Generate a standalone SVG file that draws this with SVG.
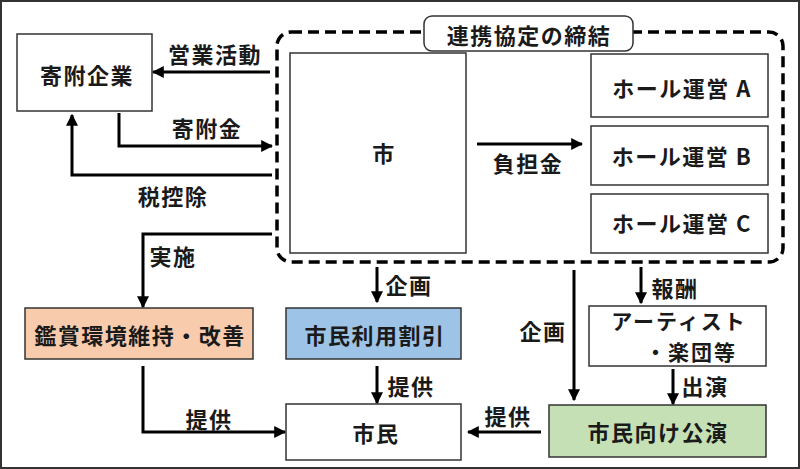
<svg xmlns="http://www.w3.org/2000/svg" width="800" height="469" viewBox="0 0 800 469">
<style>
text{font-family:"Noto Sans CJK JP","Noto Sans",sans-serif;font-weight:bold;font-size:22px;letter-spacing:1.5px;fill:#1a1a1a;text-anchor:middle;dominant-baseline:central}
.sm{font-size:21px;letter-spacing:2px}
.box{fill:#fff;stroke:#333;stroke-width:1.5}
.ln{fill:none;stroke:#000;stroke-width:3;marker-end:url(#ah)}
</style>
<defs>
<marker id="ah" viewBox="0 0 10 10" refX="9" refY="5" markerWidth="12" markerHeight="12" markerUnits="userSpaceOnUse" orient="auto">
<path d="M0,0 L10,5 L0,10 z" fill="#000"/>
</marker>
</defs>
<rect x="1" y="1" width="798" height="467" fill="#fff" stroke="#333" stroke-width="2"/>
<g id="agreement">
<rect x="277" y="32" width="506" height="230" rx="14" fill="none" stroke="#000" stroke-width="3.5" stroke-dasharray="11,6"/>
<rect x="424" y="16" width="209" height="35" rx="8" fill="#fff" stroke="#333" stroke-width="1.5"/>
<text x="529" y="34">連携協定の締結</text>
</g>
<g id="kifu-kigyo"><rect class="box" x="17" y="34" width="135" height="77"/><text x="87" y="74">寄附企業</text></g>
<g id="shi"><rect class="box" x="290" y="53" width="176" height="200"/><text x="384" y="152">市</text></g>
<g id="hall-a"><rect class="box" x="591" y="54" width="177" height="63"/><text x="682" y="87">ホール運営 A</text></g>
<g id="hall-b"><rect class="box" x="591" y="126" width="177" height="59"/><text x="682" y="155">ホール運営 B</text></g>
<g id="hall-c"><rect class="box" x="591" y="194" width="177" height="59"/><text x="682" y="222">ホール運営 C</text></g>
<g id="kansho"><rect x="25" y="308" width="228" height="51" fill="#F8CBAD" stroke="#333" stroke-width="1.5"/><text x="140" y="334">鑑賞環境維持・改善</text></g>
<g id="riyou"><rect x="286" y="308" width="175" height="51" fill="#9DC3E6" stroke="#333" stroke-width="1.5"/><text x="375" y="334">市民利用割引</text></g>
<g id="shimin"><rect class="box" x="286" y="404" width="175" height="56"/><text x="376" y="432">市民</text></g>
<g id="artist"><rect class="box" x="589" y="306" width="177" height="60"/><text class="sm" x="679" y="320">アーティスト</text><text class="sm" x="691" y="351">・楽団等</text></g>
<g id="koen"><rect x="549" y="405" width="217" height="52" fill="#C5E0B4" stroke="#333" stroke-width="1.5"/><text x="658" y="431">市民向け公演</text></g>
<g id="connectors">
<path class="ln" d="M270,72 H153"/>
<text x="215" y="53">営業活動</text>
<path class="ln" d="M119,113 V146 H272"/>
<text x="207" y="127">寄附金</text>
<path class="ln" d="M272,175 H72 V115"/>
<text x="173" y="195">税控除</text>
<path class="ln" d="M272,234 H143 V307"/>
<text x="173" y="255">実施</text>
<path class="ln" d="M477,144 H582"/>
<text x="528" y="162">負担金</text>
<path class="ln" d="M377,267 V302"/>
<text x="409" y="284">企画</text>
<path class="ln" d="M377,366 V403"/>
<text x="411" y="385">提供</text>
<path class="ln" d="M143,366 V432 H285"/>
<text x="209" y="418">提供</text>
<path class="ln" d="M574,270 V400"/>
<text x="543" y="330">企画</text>
<path class="ln" d="M641,267 V303"/>
<text x="675" y="287">報酬</text>
<path class="ln" d="M673,369 V404"/>
<text x="705" y="385">出演</text>
<path class="ln" d="M541,432 H468"/>
<text x="508" y="415">提供</text>
</g>
</svg>
